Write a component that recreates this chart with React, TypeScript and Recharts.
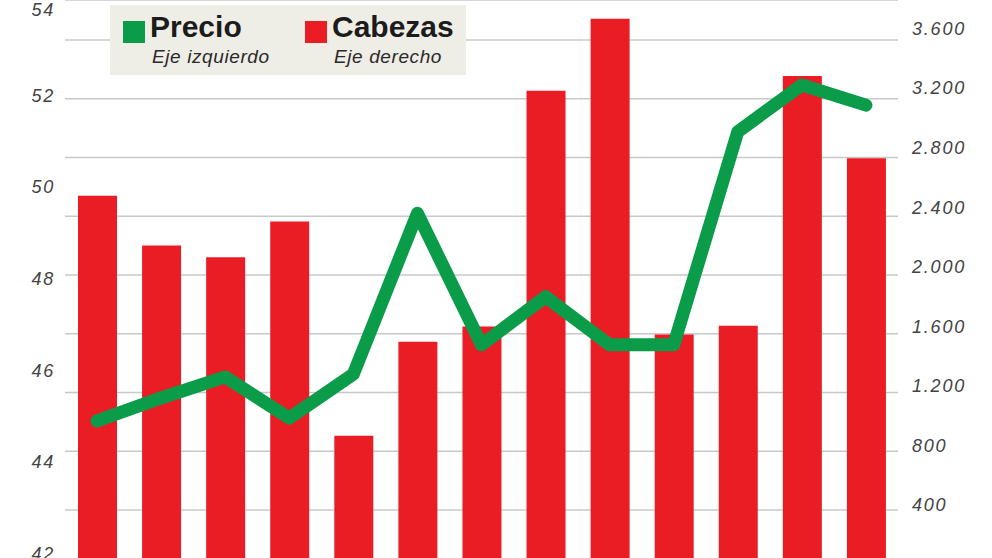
import React from "react";
import { ComposedChart, Bar, Line, XAxis, YAxis, CartesianGrid } from "recharts";

const periods = ["1", "2", "3", "4", "5", "6", "7", "8", "9", "10", "11", "12", "13"];
const precio = [44.89, 45.39, 45.85, 44.95, 45.91, 49.42, 46.55, 47.6, 46.55, 46.55, 51.2, 52.22, 51.78];
const cabezas = [2540, 2200, 2120, 2365, 905, 1545, 1650, 3255, 3745, 1595, 1655, 3355, 2795];
const leftTicks = [42, 44, 46, 48, 50, 52, 54];
const rightTicks = [0, 400, 800, 1200, 1600, 2000, 2400, 2800, 3200, 3600];

const data = periods.map((p, i) => ({ periodo: p, precio: precio[i], cabezas: cabezas[i] }));

const GREEN = "#0b9c4a";
const RED = "#ea1d25";
const FONT = "'Liberation Sans', Arial, Helvetica, sans-serif";

const thousands = (v: number) => String(v).replace(/\B(?=(\d{3})+(?!\d))/g, ".");

// eslint-disable-next-line @typescript-eslint/no-explicit-any
function LeftTick({ x, y, payload }: any) {
  return (
    <text x={x} y={y} dx={-2} dy={6.5} textAnchor="end" fill="#444" fontSize={18}
      fontStyle="italic" fontFamily={FONT} letterSpacing={1.8}>
      {payload.value}
    </text>
  );
}

// eslint-disable-next-line @typescript-eslint/no-explicit-any
function RightTick({ x, y, payload }: any) {
  // labels sit a little above their gridlines, more so towards the top
  const lift = 4.2 + payload.value * 0.0021;
  return (
    <text x={x} y={y} dx={6} dy={6.5 - lift} textAnchor="start" fill="#444" fontSize={18}
      fontStyle="italic" fontFamily={FONT} letterSpacing={1.8}>
      {thousands(payload.value)}
    </text>
  );
}

function LegendBox() {
  const item = (color: string, title: string, sub: string, left: number) => (
    <div style={{ position: "absolute", left, top: 0 }}>
      <div style={{ position: "absolute", left: 0, top: 16, width: 22, height: 22, background: color }} />
      <div style={{ position: "absolute", left: 27, top: 4, fontSize: 30, fontWeight: 700, color: "#1c1c1c", whiteSpace: "nowrap", lineHeight: "36px" }}>
        {title}
      </div>
      <div style={{ position: "absolute", left: 29, top: 40, fontSize: 19, fontStyle: "italic", color: "#2a2a2a", whiteSpace: "nowrap", letterSpacing: 0.6, lineHeight: "24px" }}>
        {sub}
      </div>
    </div>
  );
  return (
    <div style={{ position: "absolute", left: 110, top: 5, width: 356, height: 70, background: "#eeede6", fontFamily: FONT }}>
      {item(GREEN, "Precio", "Eje izquierdo", 13)}
      {item(RED, "Cabezas", "Eje derecho", 195)}
    </div>
  );
}

export default function App() {
  return (
    <div style={{ position: "absolute", left: 0, top: 0, width: 992, height: 558, overflow: "hidden", background: "#fff" }}>
      <ComposedChart width={992} height={600} data={data} margin={{ top: 0, right: 0, bottom: 31.25, left: 0 }}
        barSize={39}>
        <CartesianGrid yAxisId="right" vertical={false} stroke="#c8c8c8" strokeWidth={1.5} />
        <XAxis dataKey="periodo" hide />
        <YAxis yAxisId="left" orientation="left" width={65} domain={[41.664, 54.074]} ticks={leftTicks}
          axisLine={false} tickLine={false} tick={<LeftTick />} allowDataOverflow />
        <YAxis yAxisId="right" orientation="right" width={94} domain={[0, 3872.3]} ticks={rightTicks}
          axisLine={false} tickLine={false} tick={<RightTick />} allowDataOverflow />
        <Bar yAxisId="right" dataKey="cabezas" fill={RED} isAnimationActive={false} />
        <Line yAxisId="left" type="linear" dataKey="precio" stroke={GREEN} strokeWidth={13}
          strokeLinecap="round" strokeLinejoin="round" dot={false} activeDot={false} isAnimationActive={false} />
      </ComposedChart>
      <LegendBox />
    </div>
  );
}
